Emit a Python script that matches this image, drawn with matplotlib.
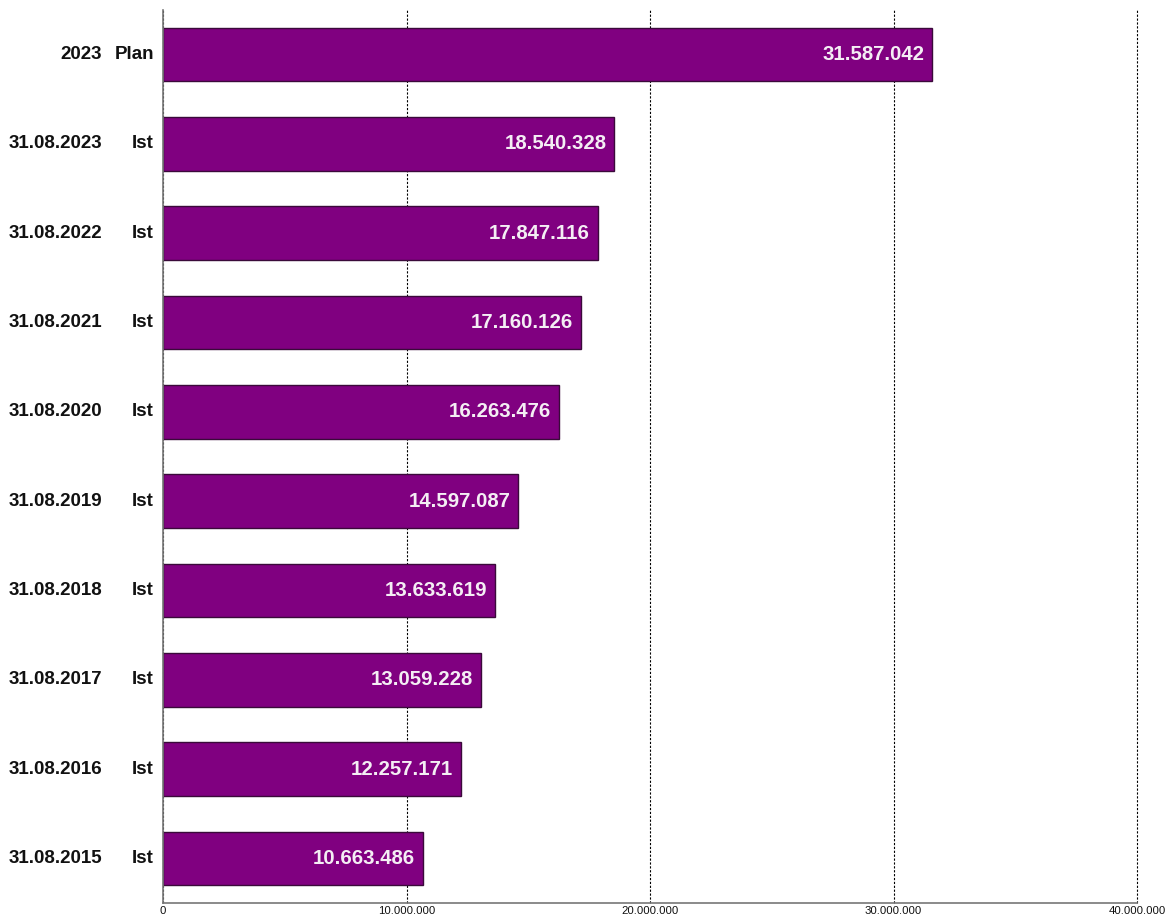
import matplotlib.pyplot as plt
from matplotlib.ticker import FuncFormatter
from matplotlib.transforms import offset_copy

plt.rcParams['font.family'] = ['Liberation Sans', 'DejaVu Sans']

# Zeilen von oben nach unten
perioden = ["2023", "31.08.2023", "31.08.2022", "31.08.2021", "31.08.2020",
            "31.08.2019", "31.08.2018", "31.08.2017", "31.08.2016", "31.08.2015"]
arten = ["Plan", "Ist", "Ist", "Ist", "Ist", "Ist", "Ist", "Ist", "Ist", "Ist"]
werte = [31587042, 18540328, 17847116, 17160126, 16263476,
         14597087, 13633619, 13059228, 12257171, 10663486]
x_ticks = [0, 10000000, 20000000, 30000000, 40000000]


def punkt_format(v, pos=None):
    return f"{int(round(v)):,}".replace(",", ".")


fig = plt.figure(figsize=(11.73, 9.18), dpi=100)
ax = fig.add_axes([0.139, 0.0163, 0.8303, 0.9728])

y = list(range(len(werte)))
ax.barh(y, werte, height=0.6, color='#800080', edgecolor='#3a0a3a', linewidth=1, zorder=3)

ax.set_ylim(len(werte) - 0.5, -0.5)
ax.set_xlim(0, 40000000)

ax.set_xticks(x_ticks)
ax.xaxis.set_major_formatter(FuncFormatter(punkt_format))
ax.tick_params(axis='x', length=0, pad=2, labelsize=8.2, colors='#111111')
ax.set_yticks([])

ax.grid(axis='x', color='black', linestyle=(0, (2, 1.5)), linewidth=0.8, zorder=1)
# letzte Gitterlinie liegt genau am Rand, sonst halb abgeschnitten
for gl in ax.get_xgridlines():
    gl.set_clip_on(False)
for s in ['top', 'right']:
    ax.spines[s].set_visible(False)
for s in ['left', 'bottom']:
    ax.spines[s].set_color('#777777')
    ax.spines[s].set_linewidth(1.2)
    ax.spines[s].set_zorder(4)

# Beschriftungen links der Achse: Datum und Art
trans = ax.get_yaxis_transform()
t_art = offset_copy(trans, fig=fig, x=-9, y=0, units='dots')
t_datum = offset_copy(trans, fig=fig, x=-61, y=0, units='dots')
for i, (p, a) in enumerate(zip(perioden, arten)):
    ax.text(0, i, a, transform=t_art, ha='right', va='center',
            fontsize=13.5, fontweight='bold', color='#111111')
    ax.text(0, i, p, transform=t_datum, ha='right', va='center',
            fontsize=13.5, fontweight='bold', color='#111111')

# Werte innen rechts in den Balken
for i, v in enumerate(werte):
    ax.annotate(punkt_format(v), xy=(v, i), xytext=(-8, 0), textcoords='offset pixels',
                ha='right', va='center', fontsize=14.7, fontweight='bold',
                color='#f4eef4', zorder=5)

fig.savefig('out.png', dpi=100)
